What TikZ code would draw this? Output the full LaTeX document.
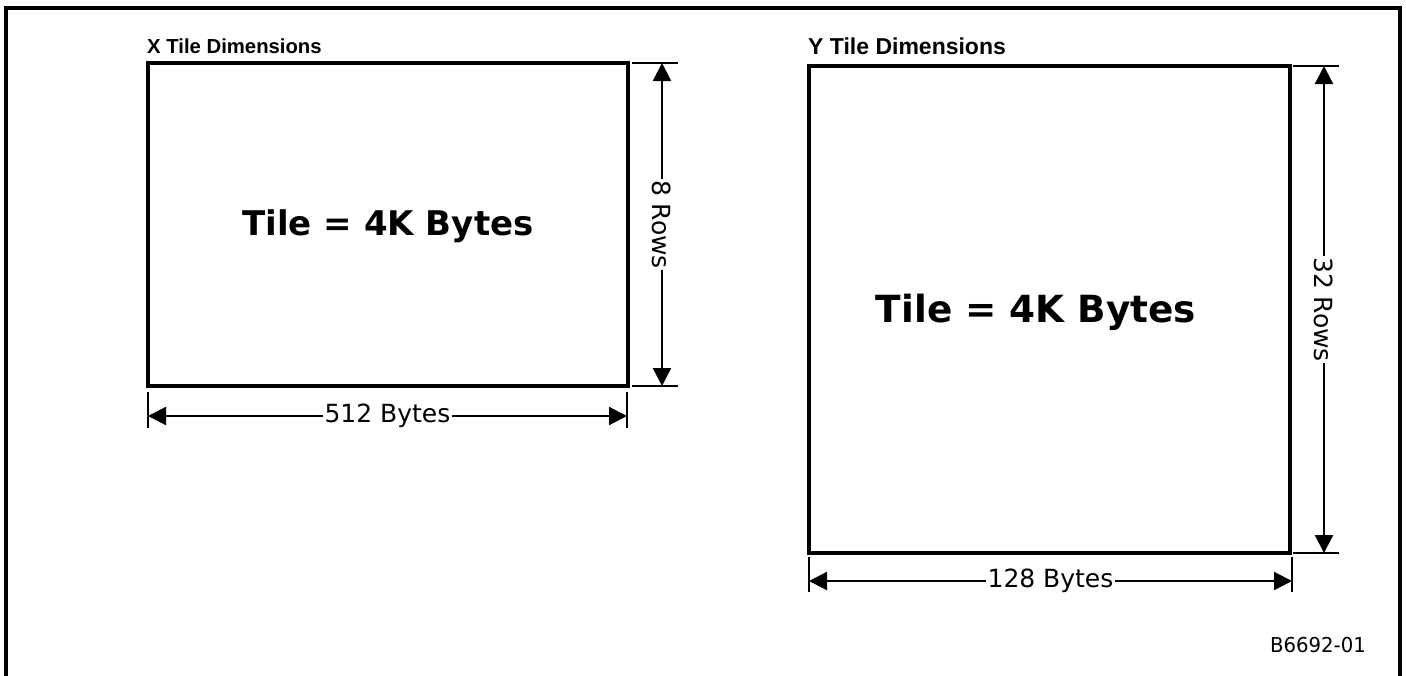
\documentclass[tikz,border=0pt]{standalone}
\usepackage{fontspec}
\usepackage{graphicx}
\setmainfont{DejaVu Sans}
\newfontfamily\arialf{Liberation Sans}
\usetikzlibrary{arrows.meta}
\tikzset{
  frame/.style={line width=3.5pt},
  tilebox/.style={draw, line width=4.5pt, inner sep=0pt},
  ext/.style={line width=2.2pt},
  dim/.style={line width=2.2pt, {Triangle[length=18pt,width=18pt]}-{Triangle[length=18pt,width=18pt]}},
  dimlabel/.style={fill=white, inner sep=1.5pt, font=\fontsize{25}{30}\selectfont},
  rowlabel/.style={fill=white, inner sep=1.5pt, rotate=-90, font=\fontsize{25}{30}\selectfont},
}
\begin{document}
\begin{tikzpicture}[x=1pt,y=-1pt]
\useasboundingbox (0,0) rectangle (1406,675);
\fill[white] (0,0) rectangle (1406,675);
% outer frame
\coordinate (f1) at (6,678);
\coordinate (f2) at (6,8);
\coordinate (f3) at (1400,8);
\coordinate (f4) at (1400,678);
\draw[frame] (f1) -- (f2) -- (f3) -- (f4);

% ---------- X tile ----------
\node[tilebox, minimum width=480pt, minimum height=323pt] (xt) at (388,224.5) {};
\node[anchor=base west, inner sep=0pt, font=\fontsize{20.3}{24}\arialf\bfseries] (xtitle) at (147,53) {X Tile Dimensions};
\node[anchor=base, inner sep=0pt, font=\fontsize{34}{40}\bfseries] (xtext) at (388,235) {Tile = 4K Bytes};

\coordinate (xr1) at (632,63);  \coordinate (xr2) at (678,63);
\coordinate (xr3) at (632,386); \coordinate (xr4) at (678,386);
\draw[ext] (xr1) -- (xr2);
\draw[ext] (xr3) -- (xr4);
\coordinate (xv1) at (662,63); \coordinate (xv2) at (662,386);
\draw[dim] (xv1) -- (xv2) node[midway, rowlabel] (xrows) {8 Rows};

\coordinate (xb1) at (148,392); \coordinate (xb2) at (148,428);
\coordinate (xb3) at (627,392); \coordinate (xb4) at (627,428);
\draw[ext] (xb1) -- (xb2);
\draw[ext] (xb3) -- (xb4);
\coordinate (xh1) at (148,416); \coordinate (xh2) at (627,416);
\draw[dim] (xh1) -- (xh2) node[midway, dimlabel] (xbytes) {512 Bytes};

% ---------- Y tile ----------
\node[tilebox, minimum width=481pt, minimum height=487pt] (yt) at (1049.5,309.5) {};
\node[anchor=base west, inner sep=0pt, font=\fontsize{23}{27}\arialf\bfseries] (ytitle) at (808,54) {Y Tile Dimensions};
\node[anchor=base, inner sep=0pt, font=\fontsize{37.4}{44}\bfseries] (ytext) at (1036,322) {Tile = 4K Bytes};

\coordinate (yr1) at (1293,66);  \coordinate (yr2) at (1339,66);
\coordinate (yr3) at (1293,553); \coordinate (yr4) at (1339,553);
\draw[ext] (yr1) -- (yr2);
\draw[ext] (yr3) -- (yr4);
\coordinate (yv1) at (1324,66); \coordinate (yv2) at (1324,553);
\draw[dim] (yv1) -- (yv2) node[midway, rowlabel] (yrows) {32 Rows};

\coordinate (yb1) at (809,557); \coordinate (yb2) at (809,592);
\coordinate (yb3) at (1292,557); \coordinate (yb4) at (1292,592);
\draw[ext] (yb1) -- (yb2);
\draw[ext] (yb3) -- (yb4);
\coordinate (yh1) at (809,581); \coordinate (yh2) at (1292,581);
\draw[dim] (yh1) -- (yh2) node[midway, dimlabel] (ybytes) {128 Bytes};

\node[anchor=base east, inner sep=0pt, font=\fontsize{20.5}{24}\selectfont] (fig) at (1366,652) {\scalebox{0.96}[1]{B6692-01}};
\end{tikzpicture}
\end{document}
